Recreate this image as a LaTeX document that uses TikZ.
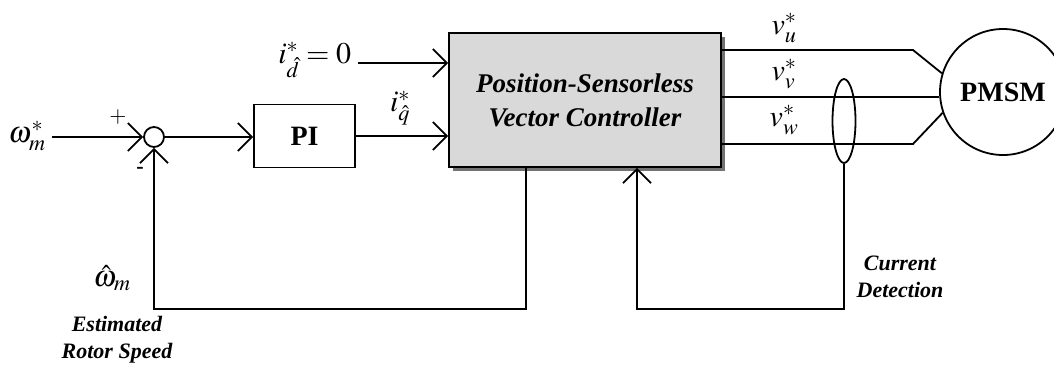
\documentclass[tikz,border=0pt]{standalone}
\usepackage{mathptmx}
\usepackage{fontspec}
\setmainfont{Liberation Serif}
\usetikzlibrary{arrows.meta,shapes.geometric}
\begin{document}
\begin{tikzpicture}[x=1pt,y=-1pt,line width=1.8pt,
  >={Straight Barb[length=14pt,width=28pt,line width=1.8pt]},
  blk/.style={draw,rectangle,inner sep=0pt},
  mathlbl/.style={inner sep=0pt,font=\fontsize{30}{36}\selectfont},
  bilbl/.style={inner sep=0pt,align=center,font=\fontsize{22}{27}\selectfont\bfseries\itshape},
  sgn/.style={inner sep=0pt,font=\fontsize{22}{26}\selectfont}]
\useasboundingbox (0,0) rectangle (1054,365);
\clip (0,0) rectangle (1054,365);
% blocks
\node[circle,draw,minimum size=20pt,inner sep=0pt] (sum) at (154,137) {};
\node[blk,minimum width=101pt,minimum height=63pt,font=\fontsize{28}{32}\selectfont\bfseries] (pi) at (304.5,136) {PI};
\fill[black!55] (453,37) rectangle (725,171);
\node[blk,fill=black!15,minimum width=272pt,minimum height=134pt,align=center,
  font=\fontsize{27}{34}\selectfont\bfseries\itshape] (ctrl) at (585,100) {Position-Sensorless\\Vector Controller};
\node[circle,draw,minimum size=126pt,inner sep=0pt,font=\fontsize{28}{32}\selectfont\bfseries] (pmsm) at (1003,92) {PMSM};
% input labels
\node[mathlbl] (wm) at (27,136) {$\omega_m^*$};
\node[mathlbl,anchor=east] (id) at (352,60) {$i^*_{\hat d}=0$};
\node[mathlbl] (iq) at (400,108) {$i^*_{\hat q}$};
\node[sgn] (plus) at (118,117) {$+$};
\node[sgn,font=\fontsize{22}{26}\selectfont\bfseries] (minus) at (140,170) {-};
% input arrows
\coordinate (wmstart) at (52,137);
\draw[->] (wmstart) -- (sum.west);
\draw[->] (sum.east) -- (pi.west |- sum.east);
\draw[->] (pi.east) -- (pi.east -| ctrl.west);
\coordinate (idstart) at (358,63);
\draw[->] (idstart) -- (idstart -| ctrl.west);
% outputs
\coordinate (ou) at (913,50);
\coordinate (ow) at (913,144);
\draw (ctrl.east |- ou) -- (ou) -- (pmsm.163);
\draw (ctrl.east |- 0,97) -- (pmsm.west |- 0,97);
\draw (ctrl.east |- ow) -- (ow) -- (pmsm.199);
\node[mathlbl] (vu) at (784,28) {$v_u^*$};
\node[mathlbl] (vv) at (784,74) {$v_v^*$};
\node[mathlbl] (vw) at (784,120) {$v_w^*$};
% current sensor
\node[ellipse,draw,minimum width=23pt,minimum height=84pt,inner sep=0pt] (ell) at (844,121) {};
% feedback
\coordinate (c1) at (844,309);
\coordinate (c2) at (637,309);
\draw[->] (ell.south) -- (c1) -- (c2) -- (c2 |- ctrl.south);
\coordinate (e1) at (526,309);
\coordinate (e2) at (154,309);
\draw[->] (e1 |- ctrl.south) -- (e1) -- (e2) -- (sum.south);
% labels
\node[mathlbl] (wh) at (112,278) {$\hat\omega_m$};
\node[bilbl] (est) at (117,340) {Estimated\\Rotor Speed};
\node[bilbl] (cd) at (900,277) {Current\\Detection};
\end{tikzpicture}
\end{document}
